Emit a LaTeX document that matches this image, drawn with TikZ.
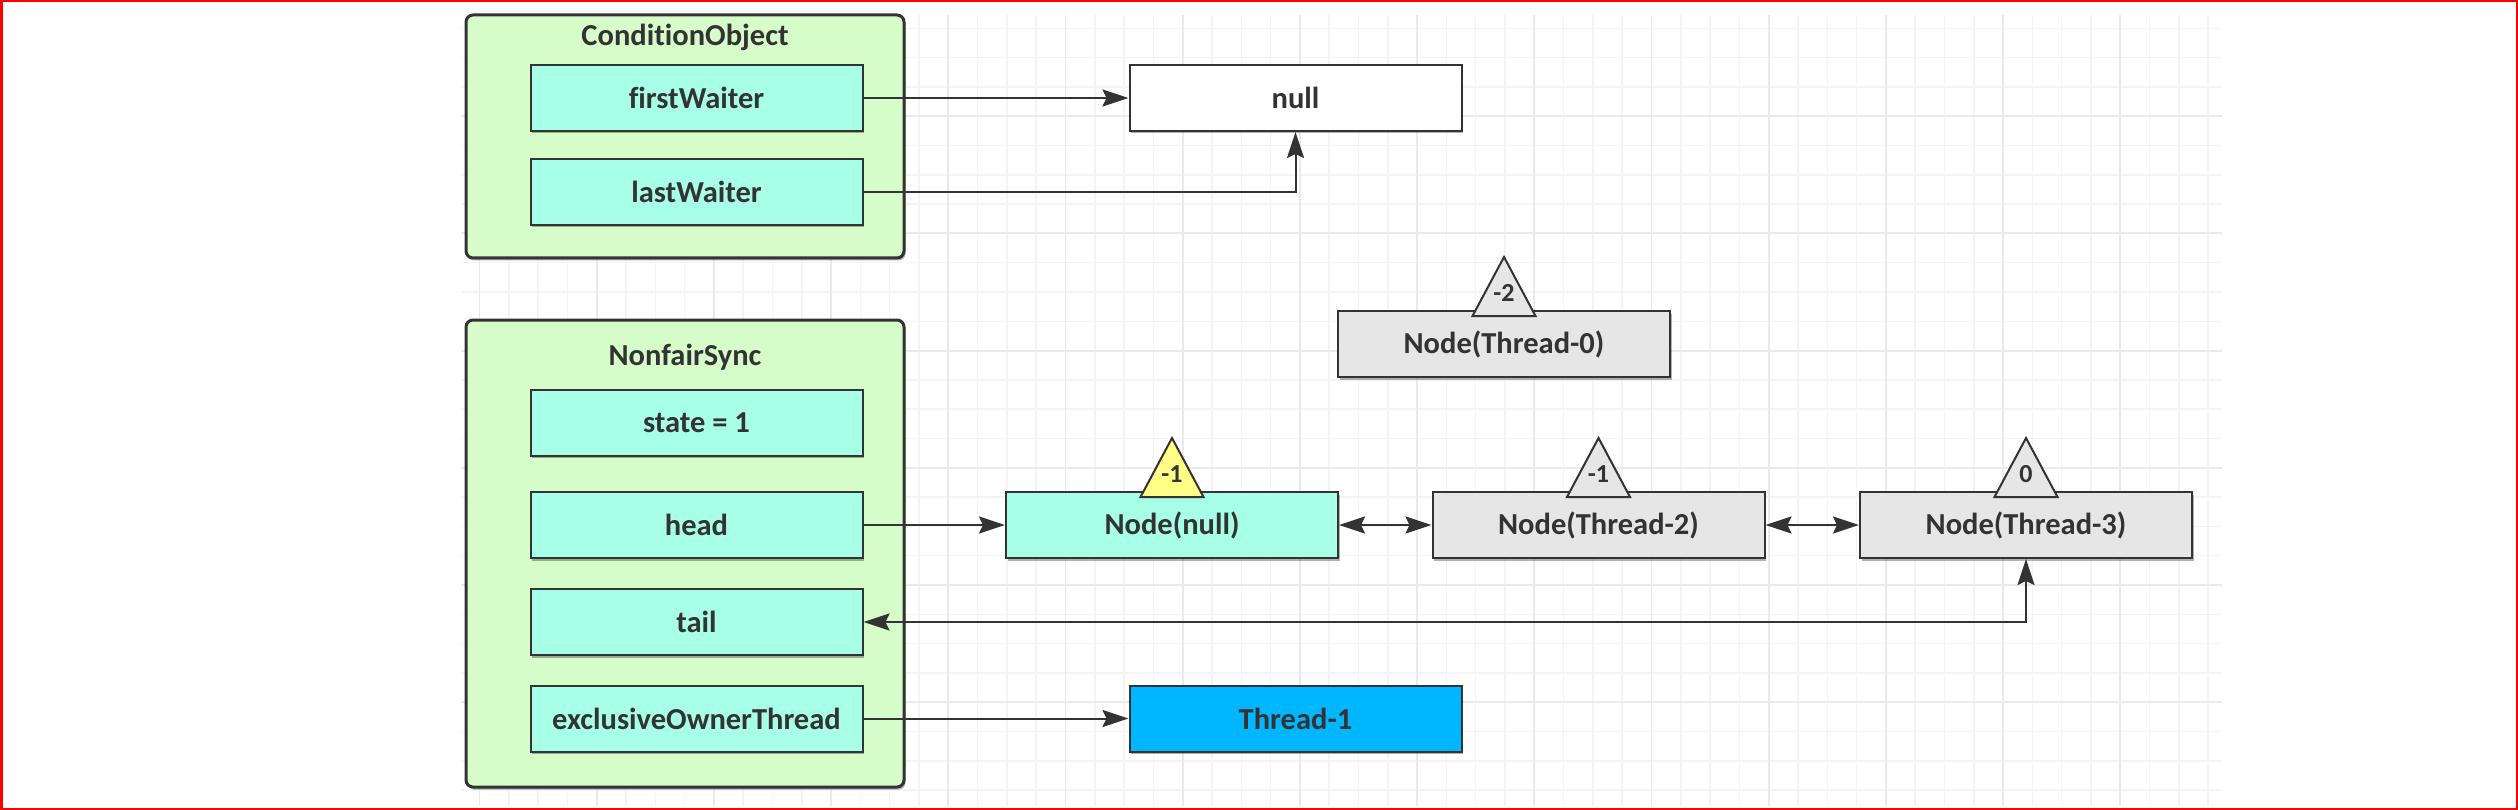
\documentclass[tikz,border=0pt]{standalone}
\usepackage{fontspec}
\setmainfont{Carlito}[Ligatures=NoCommon]
\usetikzlibrary{arrows.meta,shadows,calc}
\definecolor{txt}{HTML}{333333}
\definecolor{greenf}{HTML}{D6FCCA}
\definecolor{cyanf}{HTML}{A6FFE6}
\definecolor{grayf}{HTML}{E6E6E6}
\definecolor{yellowf}{HTML}{FFFF88}
\definecolor{bluef}{HTML}{00B6FF}
\definecolor{gridminor}{HTML}{F4F4F4}
\definecolor{gridmajor}{HTML}{EAEAEA}
\tikzset{
  shad/.style={drop shadow={shadow xshift=1.5pt,shadow yshift=-2.5pt,fill=black,opacity=0.3}},
  box/.style={draw=txt, line width=2pt, minimum width=332pt, minimum height=66pt,
    inner sep=0pt, font=\fontsize{30.5}{36}\selectfont\bfseries, text=txt, shad},
  fieldbox/.style={box, fill=cyanf},
  graybox/.style={box, fill=grayf},
  outerbox/.style={draw=txt, line width=3pt, rounded corners=7pt, fill=greenf,
    minimum width=438pt, inner sep=0pt, shad},
  titletext/.style={font=\fontsize{30.5}{36}\selectfont\bfseries, text=txt, inner sep=0pt},
  tri/.style={draw=txt, line width=2pt, line join=miter},
  trilabel/.style={font=\fontsize{26}{30}\selectfont\bfseries, text=txt, inner sep=0pt},
  conn/.style={draw=txt, line width=2pt, -{Stealth[length=26pt,width=17pt,inset=4pt]}},
  dconn/.style={draw=txt, line width=2pt, {Stealth[length=26pt,width=17pt,inset=4pt]}-{Stealth[length=26pt,width=17pt,inset=4pt]}}
}
\begin{document}
\begin{tikzpicture}[x=1pt,y=-1pt]
\useasboundingbox (0,0) rectangle (2518,810);
\fill[white] (0,0) rectangle (2518,810);
% grid
\foreach \k in {0,...,59}{
  \pgfmathsetmacro\xx{479.5+29.3*\k}
  \draw[gridminor, line width=1.5pt] (\xx,15) -- (\xx,806);
}
\foreach \k in {1,...,27}{
  \pgfmathsetmacro\yy{-1+29.3*\k}
  \draw[gridminor, line width=1.5pt] (461,\yy) -- (2222,\yy);
}
\foreach \k in {0,4,...,56}{
  \pgfmathsetmacro\xx{479.5+29.3*\k}
  \draw[gridmajor, line width=1.8pt] (\xx,15) -- (\xx,806);
}
\foreach \k in {4,8,...,24}{
  \pgfmathsetmacro\yy{-1+29.3*\k}
  \draw[gridmajor, line width=1.8pt] (461,\yy) -- (2222,\yy);
}
% outer containers
\node[outerbox, minimum height=243pt] (co) at (685,136.5) {};
\node[titletext] (cot) at (685,37) {ConditionObject};
\node[fieldbox] (fw) at (696.5,98) {firstWaiter};
\node[fieldbox] (lw) at (696.5,192) {lastWaiter};

\node[outerbox, minimum height=467pt] (ns) at (685,553.5) {};
\node[titletext] (nst) at (685,357) {NonfairSync};
\node[fieldbox] (st) at (696.5,422.5) {state = 1};
\node[fieldbox] (hd) at (696.5,525) {head};
\node[fieldbox] (tl) at (696.5,622) {tail};
\node[fieldbox] (eot) at (696.5,718.5) {exclusiveOwnerThread};

% other nodes
\node[box, fill=white] (nul) at (1295.5,98) {null};
\node[graybox] (t0) at (1504,344) {Node(Thread-0)};
\node[fieldbox] (nn) at (1172,525) {Node(null)};
\node[graybox] (t2) at (1598.5,525) {Node(Thread-2)};
\node[graybox] (t3) at (2026,525) {Node(Thread-3)};
\node[box, fill=bluef] (t1) at (1295.5,718.5) {Thread-1};

% triangles
\draw[tri, fill=grayf] ($(t0.north)+(-31.5,6)$) -- ++(31.5,-59) -- ++(31.5,59) -- cycle;
\node[trilabel] (t0l) at ($(t0.north)+(0,-17)$) {-2};
\draw[tri, fill=yellowf] ($(nn.north)+(-31.5,6)$) -- ++(31.5,-59) -- ++(31.5,59) -- cycle;
\node[trilabel] (nnl) at ($(nn.north)+(0,-17)$) {-1};
\draw[tri, fill=grayf] ($(t2.north)+(-31.5,6)$) -- ++(31.5,-59) -- ++(31.5,59) -- cycle;
\node[trilabel] (t2l) at ($(t2.north)+(0,-17)$) {-1};
\draw[tri, fill=grayf] ($(t3.north)+(-31.5,6)$) -- ++(31.5,-59) -- ++(31.5,59) -- cycle;
\node[trilabel] (t3l) at ($(t3.north)+(0,-17)$) {0};

% connectors
\draw[conn] (fw.east) -- (fw.east -| nul.west);
\draw[conn] (lw.east) -| (nul.south);
\draw[conn] (hd.east) -- (hd.east -| nn.west);
\draw[dconn] (nn.east) -- (t2.west);
\draw[dconn] (t2.east) -- (t3.west);
\draw[dconn] (tl.east) -| (t3.south);
\draw[conn] (eot.east) -- (eot.east -| t1.west);

% red frame
\draw[red, line width=2.5pt] (1.25,1.25) rectangle (2516.75,808.75);
\end{tikzpicture}
\end{document}
